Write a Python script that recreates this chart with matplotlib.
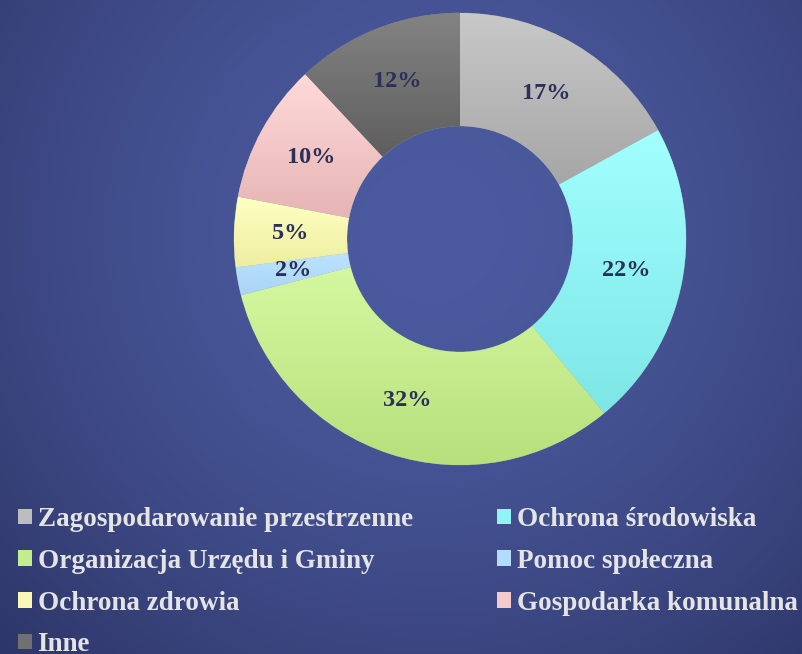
import numpy as np
import matplotlib.pyplot as plt
from matplotlib.patches import Patch
from matplotlib.colors import to_rgb

labels = ['Zagospodarowanie przestrzenne', 'Ochrona środowiska',
          'Organizacja Urzędu i Gminy', 'Pomoc społeczna',
          'Ochrona zdrowia', 'Gospodarka komunalna', 'Inne']
values = [17, 22, 32, 2, 5, 10, 12]
# top / bottom colour of each slice gradient
top_colors = ['#c8c8c8', '#a2ffff', '#d4f8a0', '#bde4ff', '#ffffc4', '#ffdada', '#838383']
bot_colors = ['#a6a6a6', '#7ee6e6', '#b8e07c', '#a8d4f4', '#eeeea0', '#e6b4b4', '#5e5e5e']
legend_colors = ['#bdbdbd', '#8ef4f4', '#c4ec8c', '#b2dcfa', '#f8f8b4', '#f4caca', '#707070']

W, H = 803, 654
fig = plt.figure(figsize=(W / 100, H / 100), dpi=100)

# radial background
bg = fig.add_axes([0, 0, 1, 1])
yy, xx = np.mgrid[0:H, 0:W]
d = np.sqrt((xx - 430) ** 2 + (yy - 230) ** 2) / 640.0
t = np.clip(d, 0, 1) ** 1.6
c0 = np.array(to_rgb('#4c5ba0'))
c1 = np.array(to_rgb('#2a3262'))
img = c0[None, None, :] * (1 - t[..., None]) + c1[None, None, :] * t[..., None]
bg.imshow(img, extent=[0, W, H, 0], aspect='auto')
bg.set_xlim(0, W)
bg.set_ylim(H, 0)
bg.axis('off')

# donut
cx, cy, R = 460, 239, 226
ax = fig.add_axes([(cx - R) / W, (H - cy - R) / H, 2 * R / W, 2 * R / H])
wedges, texts, autotexts = ax.pie(values, startangle=90, counterclock=False, radius=1,
                                  colors=legend_colors, autopct='%.0f%%', pctdistance=0.75,
                                  wedgeprops=dict(width=0.5, edgecolor='#8090a0', linewidth=0.4),
                                  textprops=dict(family='Liberation Serif', fontweight='bold',
                                                 fontsize=17.5, color='#2b3058'))

for w, ct, cb in zip(wedges, top_colors, bot_colors):
    ang = np.radians(np.linspace(w.theta1, w.theta2, 200))
    ys = np.concatenate([np.sin(ang), 0.5 * np.sin(ang)])
    y0, y1 = ys.min(), ys.max()
    g = np.linspace(0, 1, 100)[:, None]
    grad = np.array(to_rgb(ct))[None, None, :] * (1 - g[..., None]) + np.array(to_rgb(cb))[None, None, :] * g[..., None]
    grad = np.repeat(grad, 2, axis=1)
    im = ax.imshow(grad, extent=[-1, 1, y0, y1], origin='upper', aspect='auto', zorder=1.5)
    im.set_clip_path(w)

for t_ in autotexts:
    t_.set_zorder(3)

ax.set_xlim(-1.0, 1.0)
ax.set_ylim(-1.0, 1.0)
ax.set_aspect('equal')
ax.axis('off')

order = [0, 2, 4, 6, 1, 3, 5]
handles = [Patch(facecolor=legend_colors[i], edgecolor='none') for i in order]
leg = fig.legend(handles, [labels[i] for i in order], loc='upper left',
                 bbox_to_anchor=(18 / W, 1 - 507 / H), ncol=2, frameon=False,
                 prop=dict(family='Liberation Serif', weight='bold', size=19.5),
                 labelcolor='#e4e4e4', handlelength=0.5, handleheight=0.5,
                 handletextpad=0.22, labelspacing=0.62, columnspacing=3.13,
                 borderpad=0, borderaxespad=0)

fig.savefig('out.png', dpi=100)
